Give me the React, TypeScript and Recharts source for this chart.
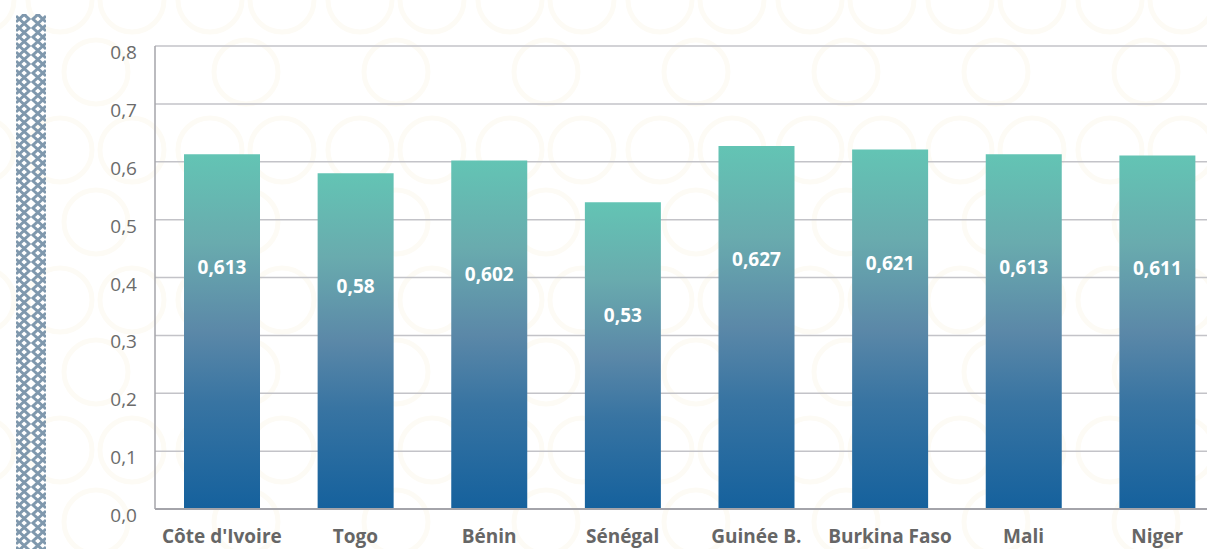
import React from "react";
import { Bar, BarChart, CartesianGrid, LabelList, XAxis, YAxis } from "recharts";

const countries = ["Côte d'Ivoire", "Togo", "Bénin", "Sénégal", "Guinée B.", "Burkina Faso", "Mali", "Niger"];
const scores = [0.613, 0.58, 0.602, 0.53, 0.627, 0.621, 0.613, 0.611];
const yTicks = [0, 0.1, 0.2, 0.3, 0.4, 0.5, 0.6, 0.7, 0.8];

const data = countries.map((c, i) => ({ country: c, score: scores[i] }));

const fmt = (v: number, d = 1) => v.toFixed(d).replace(".", ",");
const fmtLabel = (v: number) => String(v).replace(".", ",");

const FONT = '"Open Sans", "Noto Sans", sans-serif';

const YTick = ({ x, y, payload }: any) => (
  <text x={x} y={y + 8} textAnchor="end" dominantBaseline="middle" fill="#6b6b6b" fontSize={19} fontFamily={FONT}>
    {fmt(payload.value)}
  </text>
);

const XTick = ({ x, y, payload }: any) => (
  <text x={x} y={y + 26} textAnchor="middle" fill="#666" fontSize={19} fontWeight={700} fontFamily={FONT}>
    {payload.value}
  </text>
);

const ValueLabel = ({ x, y, width, value }: any) => (
  <text x={x + width / 2} y={y + 115} textAnchor="middle" dominantBaseline="middle" fill="#fff" fontSize={19} fontWeight={700} fontFamily={FONT}>
    {fmtLabel(value)}
  </text>
);

// decorative zigzag strip on the left edge
const Zigzag = () => {
  const rows = [];
  for (let y = -20; y < 560; y += 9) {
    rows.push(
      <g key={y}>
        <polyline points={`16,${y} 29,${y + 12} 16,${y + 24}`} fill="none" stroke="#7f98ad" strokeWidth={3} />
        <polyline points={`46,${y} 33,${y + 12} 46,${y + 24}`} fill="none" stroke="#7f98ad" strokeWidth={3} />
      </g>
    );
  }
  return (
    <svg width={60} height={549} style={{ position: "absolute", left: 0, top: 0 }}>
      <defs>
        <clipPath id="zz">
          <rect x={16} y={14} width={30} height={540} />
        </clipPath>
      </defs>
      <g clipPath="url(#zz)">{rows}</g>
    </svg>
  );
};

const Backdrop = () => (
  <svg width={1207} height={549} style={{ position: "absolute", left: 0, top: 0 }}>
    <defs>
      <pattern id="rings" width={150} height={150} patternUnits="userSpaceOnUse" x={20} y={-40}>
        <circle cx={40} cy={40} r={32} fill="none" stroke="#fdfbf5" strokeWidth={5} />
        <circle cx={112} cy={40} r={32} fill="none" stroke="#fdfbf5" strokeWidth={5} />
        <circle cx={76} cy={112} r={32} fill="none" stroke="#fdfbf5" strokeWidth={5} />
      </pattern>
    </defs>
    <rect x={0} y={0} width={1207} height={549} fill="url(#rings)" />
  </svg>
);

export default function App() {
  return (
    <div style={{ position: "relative", width: 1207, height: 549, overflow: "hidden", background: "#fff" }}>
      <style>{"body{margin:0;overflow:hidden}"}</style>
      <Backdrop />
      <Zigzag />
      <div style={{ position: "absolute", left: 0, top: 0 }}>
        <BarChart
          width={1240}
          height={549}
          data={data}
          margin={{ top: 46, right: 16, left: 0, bottom: 0 }}
          barSize={76}
        >
          <defs>
            <linearGradient id="barGrad" x1="0" y1="0" x2="0" y2="1">
              <stop offset="0%" stopColor="#63c4b4" />
              <stop offset="25%" stopColor="#69abae" />
              <stop offset="50%" stopColor="#5b88a8" />
              <stop offset="70%" stopColor="#3874a2" />
              <stop offset="100%" stopColor="#15619d" />
            </linearGradient>
          </defs>
          <CartesianGrid vertical={false} stroke="#c3c3c8" strokeWidth={1.5} />
          <XAxis
            dataKey="country"
            height={40}
            tickLine={false}
            axisLine={{ stroke: "#a4a4aa", strokeWidth: 2 }}
            tick={<XTick />}
            interval={0}
          />
          <YAxis
            width={155}
            domain={[0, 0.8]}
            ticks={yTicks}
            tickLine={false}
            axisLine={{ stroke: "#a4a4aa", strokeWidth: 1.5 }}
            tick={<YTick />}
            tickMargin={12}
            tickSize={6}
          />
          <Bar dataKey="score" fill="url(#barGrad)" isAnimationActive={false}>
            <LabelList dataKey="score" content={<ValueLabel />} />
          </Bar>
        </BarChart>
      </div>
    </div>
  );
}
